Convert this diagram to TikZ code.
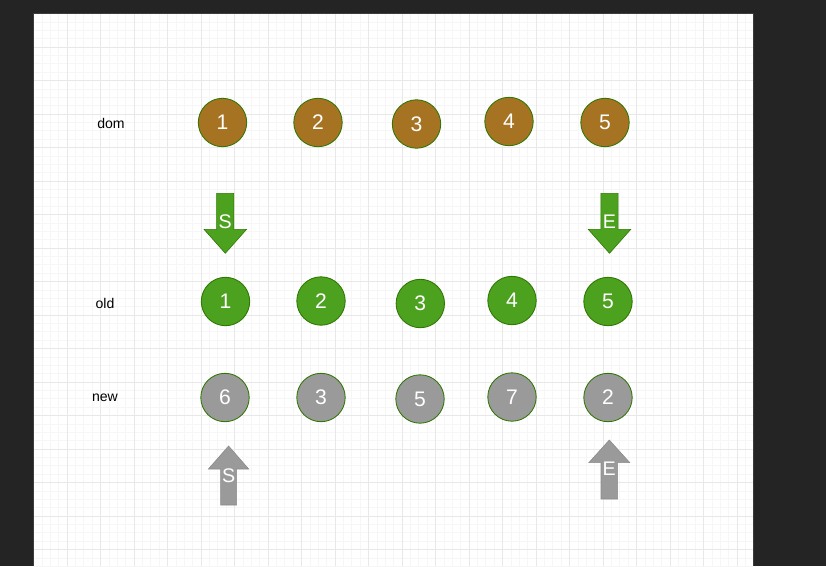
\documentclass[tikz,border=0pt]{standalone}
\usepackage{fontspec}
\setmainfont{Liberation Sans}
\usetikzlibrary{calc}

\definecolor{appdark}{HTML}{242424}
\definecolor{canvasedge}{HTML}{3C3C3C}
\definecolor{minorline}{HTML}{F6F6F6}
\definecolor{majorline}{HTML}{E8E8E8}
\definecolor{brownfill}{HTML}{A67323}
\definecolor{greenfill}{HTML}{4CA11E}
\definecolor{greenedge}{HTML}{2D7600}
\definecolor{grayfill}{HTML}{9A9A9A}

\tikzset{
  ball/.style={circle, draw=greenedge, line width=0.6pt, text=white,
    minimum size=1.21cm, inner sep=0pt, font=\fontsize{15}{17}\selectfont},
  domball/.style={ball, fill=brownfill},
  oldball/.style={ball, fill=greenfill},
  newball/.style={ball, fill=grayfill},
  rowlabel/.style={font=\fontsize{10}{12}\selectfont, text=black},
  arrowtext/.style={text=white, font=\fontsize{14}{16}\selectfont, inner sep=0pt}
}

\begin{document}
\begin{tikzpicture}[x=0.025cm,y=-0.025cm]
\useasboundingbox (0,0) rectangle (826,566);
\fill[appdark] (0,0) rectangle (826,566);
\fill[white] (33.5,13.5) rectangle (753,566);
% grid
\foreach \i in {0,...,85}{\draw[minorline,line width=0.4pt] ({33.5+8.375*\i},13.5) -- ({33.5+8.375*\i},566);}
\foreach \j in {0,...,66}{\draw[minorline,line width=0.4pt] (33.5,{13.5+8.375*\j}) -- (753,{13.5+8.375*\j});}
\foreach \i in {0,...,21}{\draw[majorline,line width=0.5pt] ({33.5+33.5*\i},13.5) -- ({33.5+33.5*\i},566);}
\foreach \j in {0,...,16}{\draw[majorline,line width=0.5pt] (33.5,{13.5+33.5*\j}) -- (753,{13.5+33.5*\j});}
\draw[canvasedge,line width=0.6pt] (33.5,566) -- (33.5,13.5) -- (753,13.5) -- (753,566);

% row labels
\node[rowlabel] (domlabel) at (111,123) {dom};
\node[rowlabel] (oldlabel) at (105,303) {old};
\node[rowlabel] (newlabel) at (105,398) {new};

% dom row
\node[domball] (d1) at (222.5,122.5) {1};
\node[domball] (d2) at (318,122.5) {2};
\node[domball] (d3) at (416.5,124) {3};
\node[domball] (d4) at (509,121.5) {4};
\node[domball] (d5) at (605,122.5) {5};

% old row
\node[oldball] (o1) at (225.5,301.5) {1};
\node[oldball] (o2) at (321,301) {2};
\node[oldball] (o3) at (420.3,303.5) {3};
\node[oldball] (o4) at (512,300.5) {4};
\node[oldball] (o5) at (608,301.5) {5};

% new row
\node[newball] (n1) at (225,397.5) {6};
\node[newball] (n2) at (321,397.5) {3};
\node[newball] (n3) at (420,399) {5};
\node[newball] (n4) at (512,397) {7};
\node[newball] (n5) at (608,397.5) {2};

% start / end pointers on old
\foreach \cx/\lbl/\nm in {225.3/S/oldstart,609.5/E/oldend}{
  \filldraw[fill=greenfill,draw=greenedge,line width=0.4pt]
    ({\cx-8.6},193.3) -- ({\cx+8.6},193.3) -- ({\cx+8.6},229.3) -- ({\cx+21.3},229.3)
    -- (\cx,253.3) -- ({\cx-21.3},229.3) -- ({\cx-8.6},229.3) -- cycle;
  \node[arrowtext] (\nm) at (\cx,222) {\lbl};
}

% start / end pointers on new
\filldraw[fill=grayfill,draw=grayfill!90!black,line width=0.4pt]
  (220.6,505) -- (236.6,505) -- (236.6,469) -- (248.7,469) -- (228.6,446)
  -- (208.4,469) -- (220.6,469) -- cycle;
\node[arrowtext] (newstart) at (228.6,476) {S};
\filldraw[fill=grayfill,draw=grayfill!90!black,line width=0.4pt]
  (601,499) -- (617.6,499) -- (617.6,462.7) -- (629.8,462.7) -- (609.3,440)
  -- (588.8,462.7) -- (601,462.7) -- cycle;
\node[arrowtext] (newend) at (609.3,469) {E};
\end{tikzpicture}
\end{document}
